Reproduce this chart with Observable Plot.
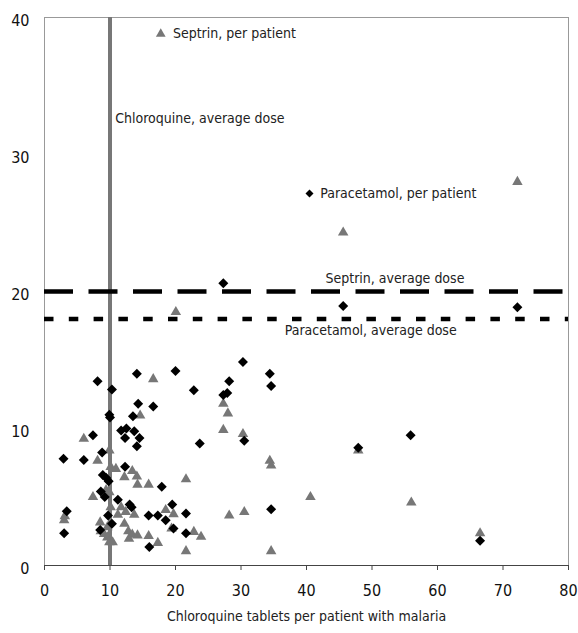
<!DOCTYPE html>
<html><head><meta charset="utf-8">
<script src="https://cdn.jsdelivr.net/npm/d3@7"></script>
<script src="https://cdn.jsdelivr.net/npm/@observablehq/plot@0.6"></script>
<style>body{margin:0;background:#fff}</style>
</head><body><div id="chart"></div>
<script>
// Paracetamol per patient (black diamonds)
const paracetamolX = [8.1,14.1,20.0,10.3,22.8,28.2,27.3,27.9,14.3,16.6,9.9,10.0,13.5,11.7,12.5,13.7,12.3,14.5,14.1,7.4,23.7,8.8,2.9,6.0,12.3,8.9,9.4,9.8,17.9,8.6,9.2,11.2,13.0,13.3,19.5,3.4,9.7,15.9,17.3,18.5,21.6,10.3,3.0,21.6,16.0,8.5,19.7,30.3,34.4,34.6,30.5,34.6,47.9,55.9,66.5,27.3,45.6,72.2];
const paracetamolY = [13.45,14.0,14.2,12.85,12.8,13.45,12.45,12.6,11.8,11.6,11.0,10.8,10.9,9.85,10.0,9.8,9.3,9.3,8.7,9.5,8.9,8.25,7.8,7.7,7.2,6.6,6.4,6.15,5.75,5.4,5.0,4.8,4.45,4.25,4.45,3.96,3.65,3.65,3.65,3.3,3.8,3.05,2.35,2.35,1.35,2.6,2.7,14.85,14.0,13.1,9.1,4.1,8.6,9.5,1.8,20.6,18.95,18.85];
// Septrin per patient (grey triangles)
const septrinX = [72.2,45.6,20.05,27.3,28.0,27.3,30.3,34.4,34.6,40.6,56.0,28.2,30.5,34.6,47.9,66.5,23.9,16.6,14.6,6.0,8.1,9.9,10.1,10.9,12.2,13.4,14.1,14.2,15.9,21.6,7.4,9.4,9.9,10.1,11.7,11.2,12.4,13.7,18.5,19.7,3.1,3.0,8.5,9.6,12.2,19.4,12.8,13.4,14.2,12.9,15.9,17.3,21.6,22.8,8.6,9.1,9.6,9.9,10.4];
const septrinY = [28.0,24.3,18.5,11.8,11.1,9.9,9.6,7.65,7.3,5.0,4.6,3.65,3.9,1.05,8.4,2.35,2.1,13.6,10.95,9.25,7.65,8.4,7.2,7.05,6.45,6.9,6.5,5.9,5.9,6.3,5.0,5.5,5.35,4.25,4.25,3.7,3.9,3.7,4.05,3.75,3.6,3.3,3.15,2.8,3.05,2.7,2.5,2.25,2.2,1.95,2.15,1.65,1.05,2.45,2.5,2.3,2.05,1.7,1.7];
// Reference levels
const chloroquineAverage = 10;
const septrinAverage = 20;
const paracetamolAverage = 18;
// Axis ticks and text
const xTicks = [0,10,20,30,40,50,60,70,80];
const yTicks = [0,10,20,30,40];
const xTitle = "Chloroquine tablets per patient with malaria";
// left-anchored labels
const startLabels = ["Septrin, per patient","Paracetamol, per patient","Chloroquine, average dose"];
const startX = [19.6, 42.1, 10.8];
const startY = [38.8, 27.15, 32.6];
// centred labels
const midLabels = ["Septrin, average dose","Paracetamol, average dose"];
const midX = [53.5, 49.8];
const midY = [20.95, 17.15];
const legendSymbolX = [17.75, 40.46];
const legendSymbolY = [38.8, 27.15];
const legendSymbol = ["triangle","diamond2"];

const paracetamol = paracetamolX.map((x,i)=>({x, y: paracetamolY[i]}));
const septrin = septrinX.map((x,i)=>({x, y: septrinY[i]}));
const startAnn = startLabels.map((t,i)=>({t, x: startX[i], y: startY[i]}));
const midAnn = midLabels.map((t,i)=>({t, x: midX[i], y: midY[i]}));
const legendMarks = legendSymbol.map((s,i)=>({s, x: legendSymbolX[i], y: legendSymbolY[i]}));

const FONT = '"Liberation Sans Narrow","Arial Narrow","DejaVu Sans Condensed",sans-serif';
const GREY = "#777";

const chart = Plot.plot({
  width: 578, height: 633,
  marginLeft: 44, marginRight: 10, marginTop: 17, marginBottom: 68,
  style: {fontFamily: FONT, background: "#fff", color: "#111"},
  x: {domain: [0,80]},
  y: {domain: [0,40]},
  marks: [
    Plot.frame({stroke: "#999"}),
    Plot.ruleX([chloroquineAverage], {stroke: GREY, strokeWidth: 4}),
    Plot.dot(septrin, {x: "x", y: "y", symbol: "triangle", r: 3.9, fill: GREY, stroke: "none"}),
    Plot.dot(paracetamol, {x: "x", y: "y", symbol: "diamond2", r: 4.5, fill: "#000", stroke: "none"}),
    Plot.ruleY([septrinAverage], {stroke: "#000", strokeWidth: 4.5, strokeDasharray: "29,15.5"}),
    Plot.ruleY([paracetamolAverage], {stroke: "#000", strokeWidth: 4.5, strokeDasharray: "9.5,15.3"}),
    Plot.ruleY([0], {stroke: "#444", strokeWidth: 1.2}),
    Plot.axisX({ticks: xTicks, tickSize: 5, tickPadding: 14, fontSize: 16, label: null, stroke: "#444"}),
    Plot.axisY({ticks: yTicks, tickSize: 0, tickPadding: 15, fontSize: 16, label: null, dy: 3}),
    Plot.text([xTitle], {frameAnchor: "bottom", dy: 55, text: d => d, fontSize: 14, fill: "#222"}),
    Plot.dot(legendMarks, {x: "x", y: "y", symbol: "s", r: 3.6, fill: d => d.s === "triangle" ? GREY : "#000", stroke: "none"}),
    Plot.text(startAnn, {x: "x", y: "y", text: "t", textAnchor: "start", fontSize: 14, fill: "#222"}),
    Plot.text(midAnn, {x: "x", y: "y", text: "t", textAnchor: "middle", fontSize: 14, fill: "#222"})
  ]
});
document.getElementById("chart").appendChild(chart);
</script>
</body></html>
